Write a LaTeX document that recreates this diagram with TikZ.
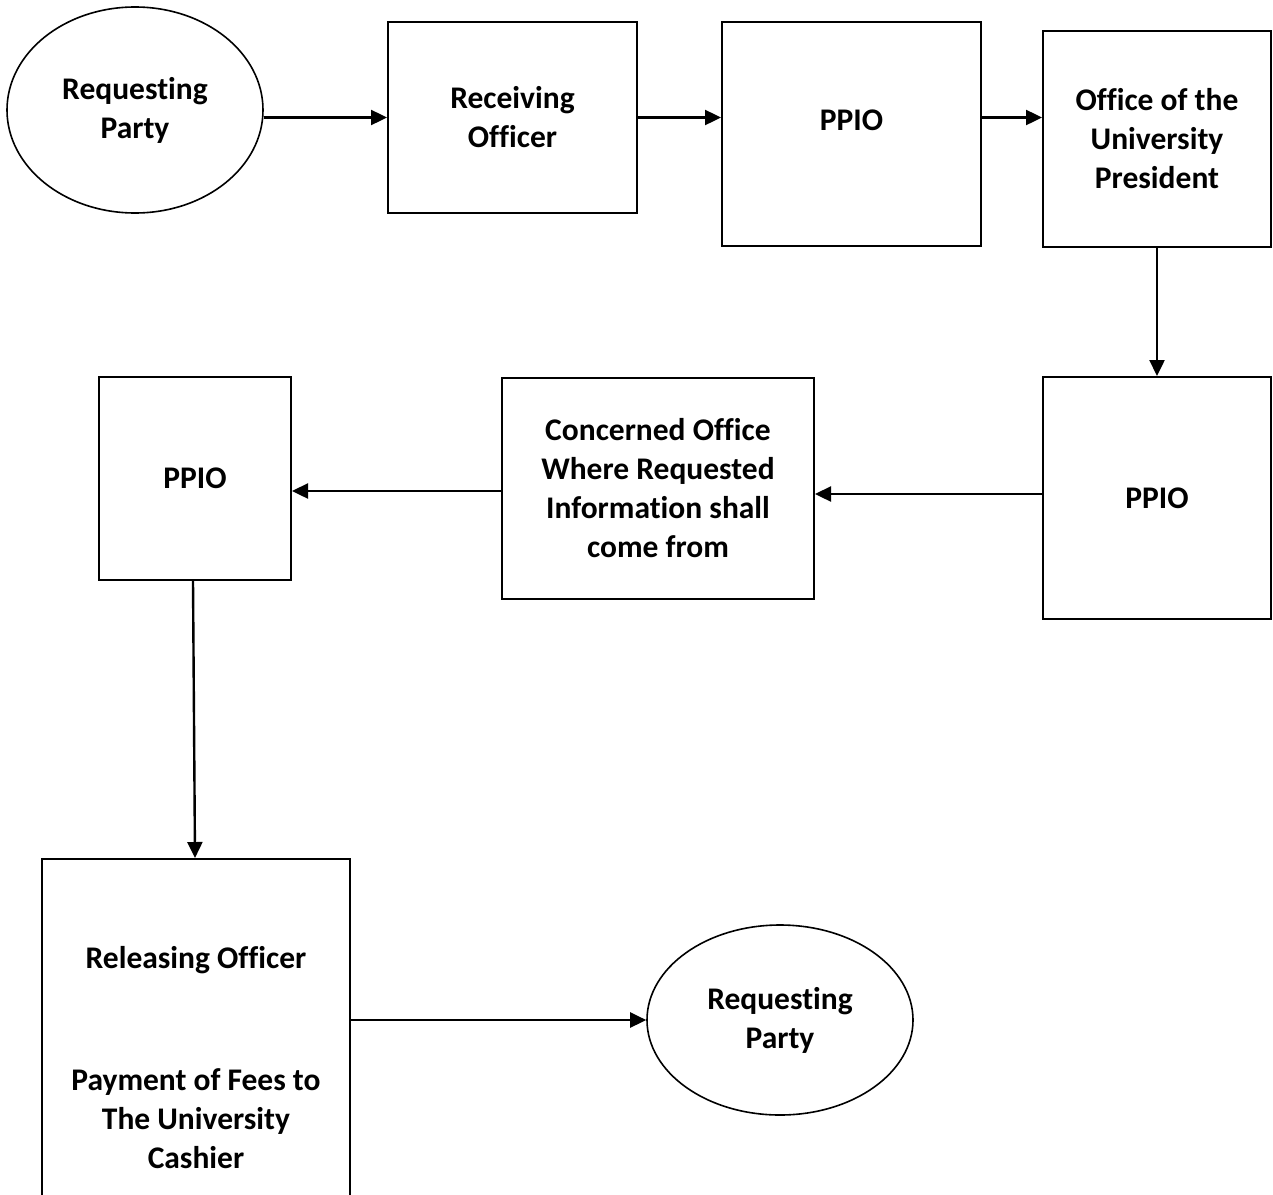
\documentclass[tikz,border=0pt]{standalone}
\usepackage{fontspec}
\setmainfont{Carlito}[Ligatures={NoCommon,NoRare}]
\usetikzlibrary{shapes.geometric,arrows.meta}
\tikzset{
  txt/.style={font=\fontsize{31.5}{39}\selectfont\bfseries, align=center, inner sep=0pt},
  box/.style={draw, rectangle, line width=2pt, inner sep=0pt, txt},
  oval/.style={draw, ellipse, line width=1.6pt, inner sep=0pt, txt},
  arr/.style={line width=2.4pt, -{Triangle[length=16pt,width=15pt]}}
}
\begin{document}
\begin{tikzpicture}[x=1pt,y=-1pt]
\clip (0,0) rectangle (1273,1194);
\fill[white] (0,0) rectangle (1273,1194);
\node[oval, minimum width=256pt, minimum height=206pt] (rp1) at (135,110) {Requesting\\Party};
\node[box, minimum width=249pt, minimum height=191pt] (ro) at (512.5,117.5) {Receiving\\Officer};
\node[box, minimum width=259pt, minimum height=224pt] (ppio1) at (851.5,134) {};
\node[txt] (t1) at (851.5,120) {PPIO};
\node[box, minimum width=228pt, minimum height=216pt] (oup) at (1157,139) {Office of the\\University\\President};
\node[box, minimum width=228pt, minimum height=242pt] (ppio2) at (1157,498) {PPIO};
\node[box, minimum width=312pt, minimum height=221pt] (co) at (658,488) {Concerned Office\\Where Requested\\Information shall\\come from};
\node[box, minimum width=192pt, minimum height=203pt] (ppio3) at (195,478.5) {PPIO};
\node[box, minimum width=308pt, minimum height=400pt] (rel) at (196,1059) {};
\node[txt] (t2) at (196,960) {Releasing Officer};
\node[txt] (t3) at (196,1119) {Payment of Fees to\\The University\\Cashier};
\node[oval, minimum width=266pt, minimum height=190pt] (rp2) at (780,1020) {Requesting\\Party};

\draw[arr] (rp1.east |- ro.west) -- (ro.west);
\draw[arr] (ro.east) -- (ro.east -| ppio1.west);
\draw[arr] (ppio1.east |- ro.east) -- (ro.east -| oup.west);
\draw[arr] (oup.south) -- (ppio2.north);
\draw[arr] ([yshift=4pt]ppio2.west) -- ([yshift=4pt]ppio2.west -| co.east);
\draw[arr] ([yshift=-3pt]co.west) -- ([yshift=-3pt]co.west -| ppio3.east);
\draw[arr] ([xshift=-2pt]ppio3.south) -- ([xshift=-1pt]rel.north);
\draw[arr] (rel.east |- rp2.west) -- (rp2.west);
\end{tikzpicture}
\end{document}
